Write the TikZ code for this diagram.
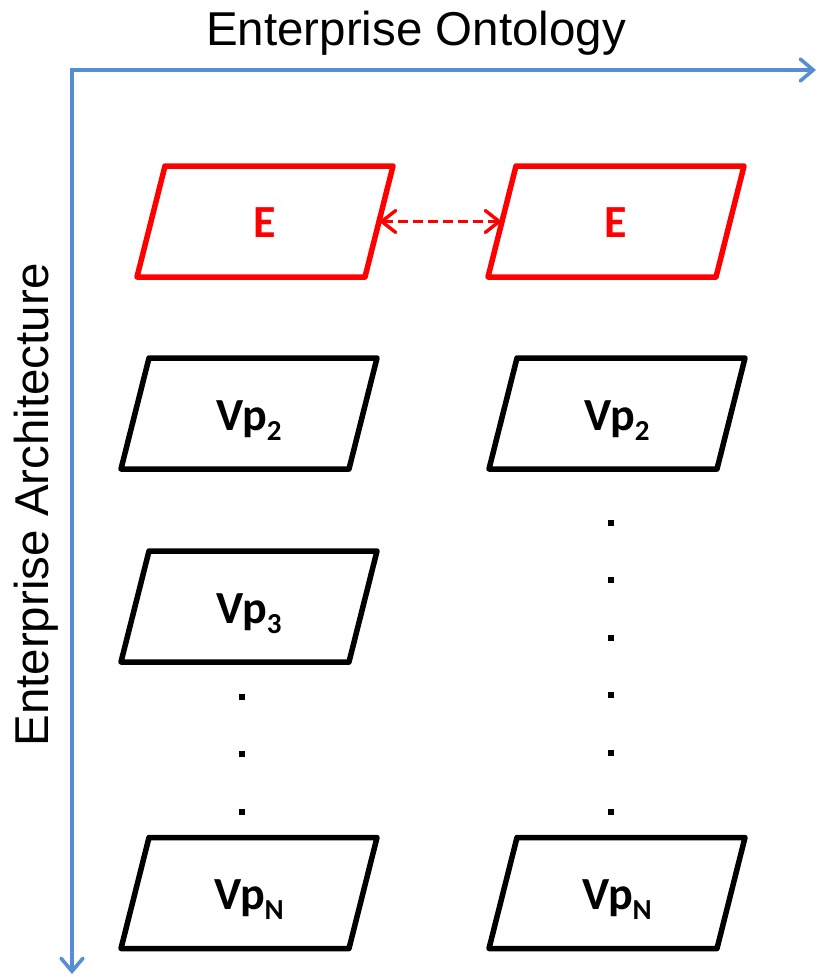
\documentclass[tikz,border=0pt]{standalone}
\usepackage{fontspec}
\setmainfont{Liberation Sans}
\newfontfamily\calfont{Carlito}
\usetikzlibrary{arrows.meta}
\definecolor{axisblue}{RGB}{85,142,213}
\definecolor{pred}{RGB}{255,0,0}
\tikzset{
  axisline/.style={draw=axisblue, line width=3.6pt, line cap=round, line join=miter,
    arrows={Straight Barb[length=13pt,width=22pt,line width=3.6pt,line cap=round]-Straight Barb[length=13pt,width=22pt,line width=3.6pt,line cap=round]}},
  holder/.style={draw=none, minimum width=228pt, minimum height=111pt, inner sep=0pt, outer sep=0pt},
  lbl/.style={font=\calfont\bfseries\fontsize{46}{46}\selectfont, anchor=base, inner sep=0pt},
  axlbl/.style={font=\fontsize{47.5}{47.5}\selectfont, anchor=base, inner sep=0pt},
  dotsq/.style={fill=black, minimum size=6.5pt, inner sep=0pt, outer sep=0pt},
  outline/.style={line width=5.5pt, line join=round},
  link/.style={draw=pred, line width=3.4pt, dash pattern=on 10pt off 5pt,
    arrows={Straight Barb[length=14pt,width=22pt,line width=3.4pt,line cap=round]-Straight Barb[length=14pt,width=22pt,line width=3.4pt,line cap=round]}}
}
\newcommand\drawpara[2]{\draw[outline,#2] ([xshift=14pt]#1.north west) -- ([xshift=14pt]#1.north east) -- ([xshift=-14pt]#1.south east) -- ([xshift=-14pt]#1.south west) -- cycle;}
\newcommand\subs[1]{\raisebox{-10pt}{\fontsize{29}{29}\selectfont #1}}
\begin{document}
\begin{tikzpicture}[x=1pt,y=-1pt]
\useasboundingbox (0,0) rectangle (819,977);
% axes
\coordinate (corner) at (72,70);
\coordinate (xend) at (816,70);
\coordinate (yend) at (72,974);
\draw[axisline] (xend) -- (corner) -- (yend);
\node[axlbl] (tlabel) at (416,45) {Enterprise Ontology};
\node[axlbl, rotate=90] (llabel) at (48,505) {Enterprise Architecture};
% holders
\node[holder] (e1) at (265,221.5) {};
\node[holder] (e2) at (616,221.5) {};
\node[holder] (l2) at (249,413.5) {};
\node[holder] (r2) at (617,413.5) {};
\node[holder] (l3) at (249,606.5) {};
\node[holder] (lN) at (249,893) {};
\node[holder] (rN) at (617,893) {};
\drawpara{e1}{draw=pred}
\drawpara{e2}{draw=pred}
\drawpara{l2}{draw=black}
\drawpara{r2}{draw=black}
\drawpara{l3}{draw=black}
\drawpara{lN}{draw=black}
\drawpara{rN}{draw=black}
% labels
\node[lbl, text=pred] (te1) at (265,237) {E};
\node[lbl, text=pred] (te2) at (616,237) {E};
\node[lbl] (tl2) at (249,430) {Vp\subs{2}};
\node[lbl] (tr2) at (617,430) {Vp\subs{2}};
\node[lbl] (tl3) at (249,623) {Vp\subs{3}};
\node[lbl] (tlN) at (249,909.5) {Vp\subs{N}};
\node[lbl] (trN) at (617,909.5) {Vp\subs{N}};
% link
\draw[link] (e1.east) -- (e2.west);
% dots
\node[dotsq] (dl1) at (242,697) {};
\node[dotsq] (dl2) at (242,754) {};
\node[dotsq] (dl3) at (242,812) {};
\node[dotsq] (dr1) at (611,523) {};
\node[dotsq] (dr2) at (611,580) {};
\node[dotsq] (dr3) at (611,638) {};
\node[dotsq] (dr4) at (611,695) {};
\node[dotsq] (dr5) at (611,753) {};
\node[dotsq] (dr6) at (611,812) {};
\end{tikzpicture}
\end{document}
